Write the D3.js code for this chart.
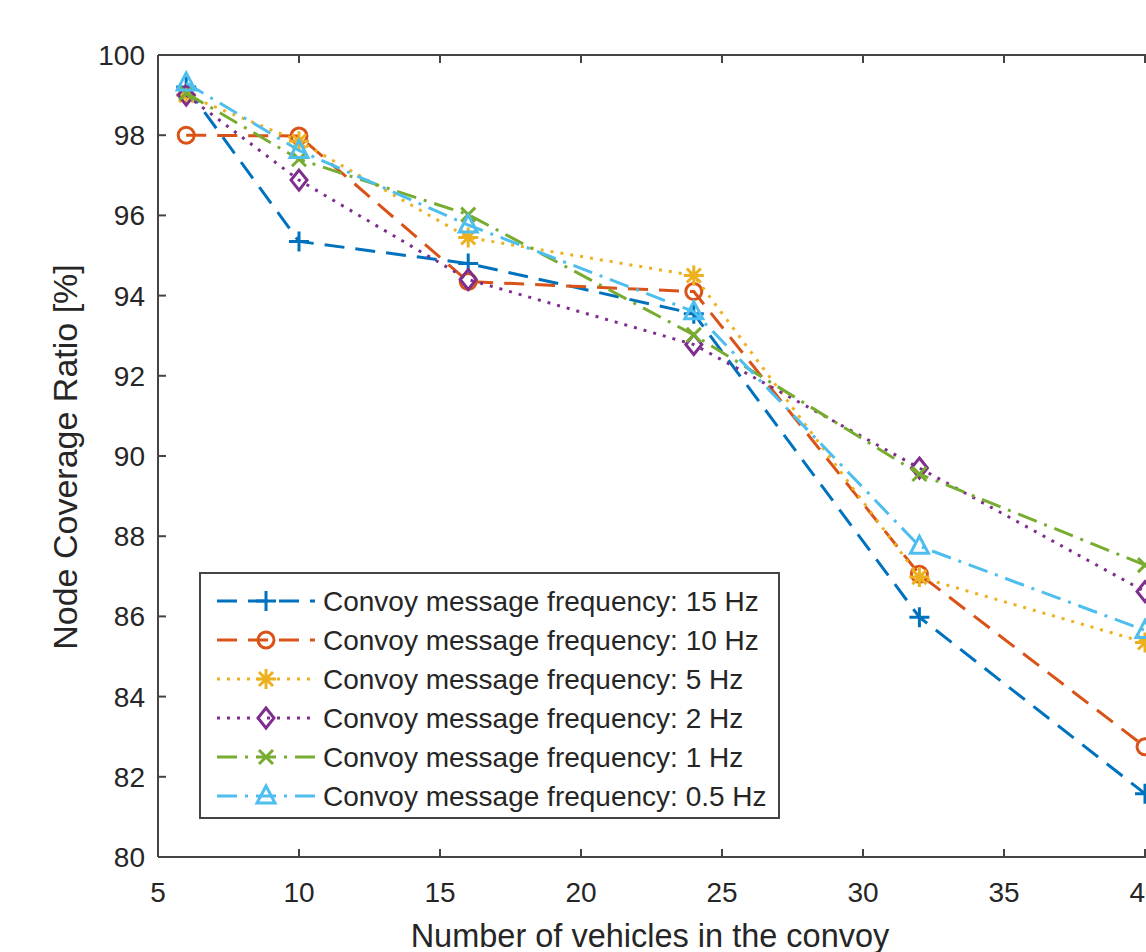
<!DOCTYPE html>
<html>
<head>
<meta charset="utf-8">
<script src="https://d3js.org/d3.v7.min.js"></script>
<style>
  body { margin: 0; background: #fff; }
  text { font-family: "Liberation Sans", Arial, sans-serif; fill: #262626; }
</style>
</head>
<body>
<svg id="chart"></svg>
<script>
// number of vehicles in the convoy
var vehicles = [6, 10, 16, 24, 32, 40];

// node coverage ratio [%] per message frequency
var hz15 = [99.2, 95.35, 94.8, 93.55, 85.98, 81.58];
var hz10 = [98.0, 97.98, 94.35, 94.1, 87.05, 82.75];
var hz5 = [99.0, 97.85, 95.45, 94.5, 86.98, 85.35];
var hz2 = [99.0, 96.88, 94.4, 92.78, 89.7, 86.62];
var hz1 = [99.05, 97.4, 96.02, 93.02, 89.55, 87.28];
var hz05 = [99.3, 97.62, 95.76, 93.6, 87.75, 85.65];

var seriesNames = ["Convoy message frequency: 15 Hz", "Convoy message frequency: 10 Hz",
  "Convoy message frequency: 5 Hz", "Convoy message frequency: 2 Hz",
  "Convoy message frequency: 1 Hz", "Convoy message frequency: 0.5 Hz"];
var seriesValues = [hz15, hz10, hz5, hz2, hz1, hz05];

var xTicks = [5, 10, 15, 20, 25, 30, 35, 40];
var yTicks = [80, 82, 84, 86, 88, 90, 92, 94, 96, 98, 100];

// matlab default colours, line styles and markers
var colors = ["#0072BD", "#D95319", "#EDB120", "#7E2F8E", "#77AC30", "#4DBEEE"];
var dashes = ["20,11", "20,11", "3,7", "3,7", "20,8,3,8", "20,8,3,8"];
var markers = ["plus", "circle", "star", "diamond", "cross", "triangle"];

var width = 1146, height = 952;
var margin = {top: 55, left: 158, bottom: 95};

var svg = d3.select("#chart")
  .attr("width", width)
  .attr("height", height);

var x = d3.scaleLinear().domain([5, 40]).range([margin.left, 1145]);
var y = d3.scaleLinear().domain([80, 100]).range([height - margin.bottom, margin.top]);

var axisColor = "#444";

// frame lines (left, bottom, top)
var frame = svg.append("g").attr("stroke", axisColor).attr("stroke-width", 2);
frame.append("line").attr("x1", x(5)).attr("x2", x(5)).attr("y1", y(80)).attr("y2", y(100));
frame.append("line").attr("x1", x(5)).attr("x2", width).attr("y1", y(80)).attr("y2", y(80));
frame.append("line").attr("x1", x(5)).attr("x2", width).attr("y1", y(100)).attr("y2", y(100));

// inward ticks on bottom and top
var tickLen = 8;
xTicks.forEach(function(t) {
  frame.append("line").attr("x1", x(t)).attr("x2", x(t)).attr("y1", y(80)).attr("y2", y(80) - tickLen);
  frame.append("line").attr("x1", x(t)).attr("x2", x(t)).attr("y1", y(100)).attr("y2", y(100) + tickLen);
});
yTicks.forEach(function(t) {
  frame.append("line").attr("x1", x(5)).attr("x2", x(5) + tickLen).attr("y1", y(t)).attr("y2", y(t));
});

// tick labels
svg.append("g").selectAll("text").data(xTicks).enter().append("text")
  .attr("x", function(d) { return x(d); })
  .attr("y", y(80) + 45)
  .attr("text-anchor", "middle")
  .style("font-size", "28px")
  .text(function(d) { return d; });

svg.append("g").selectAll("text").data(yTicks).enter().append("text")
  .attr("x", x(5) - 13)
  .attr("y", function(d) { return y(d) + 10; })
  .attr("text-anchor", "end")
  .style("font-size", "28px")
  .text(function(d) { return d; });

// axis labels
svg.append("text")
  .attr("x", 650)
  .attr("y", 947)
  .attr("text-anchor", "middle")
  .style("font-size", "32.5px")
  .text("Number of vehicles in the convoy");

svg.append("text")
  .attr("transform", "translate(77," + 457 + ") rotate(-90)")
  .attr("text-anchor", "middle")
  .style("font-size", "34px")
  .text("Node Coverage Ratio [%]");

// marker shapes, drawn unfilled
function drawMarker(g, type, cx, cy, color) {
  var m = g.append("g").attr("transform", "translate(" + cx + "," + cy + ")")
    .attr("stroke", color).attr("stroke-width", 3).attr("fill", "none");
  if (type == "plus") {
    m.append("path").attr("d", "M-10,0H10M0,-10V10");
  } else if (type == "circle") {
    m.append("circle").attr("r", 8);
  } else if (type == "star") {
    m.append("path").attr("d", "M-10,0H10M0,-10V10M-7,-7L7,7M-7,7L7,-7");
  } else if (type == "diamond") {
    m.append("path").attr("d", "M0,-10L8,0L0,10L-8,0Z");
  } else if (type == "cross") {
    m.append("path").attr("d", "M-7,-7L7,7M-7,7L7,-7");
  } else if (type == "triangle") {
    m.append("path").attr("d", "M0,-10L9,7H-9Z");
  }
}

var line = d3.line()
  .x(function(d, i) { return x(vehicles[i]); })
  .y(function(d) { return y(d); });

// add the series
seriesValues.forEach(function(vals, s) {
  var g = svg.append("g");
  g.append("path")
    .datum(vals)
    .attr("d", line)
    .attr("fill", "none")
    .attr("stroke", colors[s])
    .attr("stroke-width", 3)
    .attr("stroke-dasharray", dashes[s]);
  vals.forEach(function(v, i) {
    drawMarker(g, markers[s], x(vehicles[i]), y(v), colors[s]);
  });
});

// legend
var legend = svg.append("g");
legend.append("rect")
  .attr("x", 200).attr("y", 573)
  .attr("width", 579).attr("height", 245)
  .attr("fill", "#fff")
  .attr("stroke", axisColor)
  .attr("stroke-width", 2);

seriesNames.forEach(function(name, s) {
  var ry = 601 + s * 39;
  legend.append("line")
    .attr("x1", 217).attr("x2", 315)
    .attr("y1", ry).attr("y2", ry)
    .attr("stroke", colors[s])
    .attr("stroke-width", 3)
    .attr("stroke-dasharray", dashes[s]);
  drawMarker(legend, markers[s], 266, ry, colors[s]);
  legend.append("text")
    .attr("x", 323)
    .attr("y", ry + 10)
    .style("font-size", "28px")
    .text(name);
});
</script>
</body>
</html>
